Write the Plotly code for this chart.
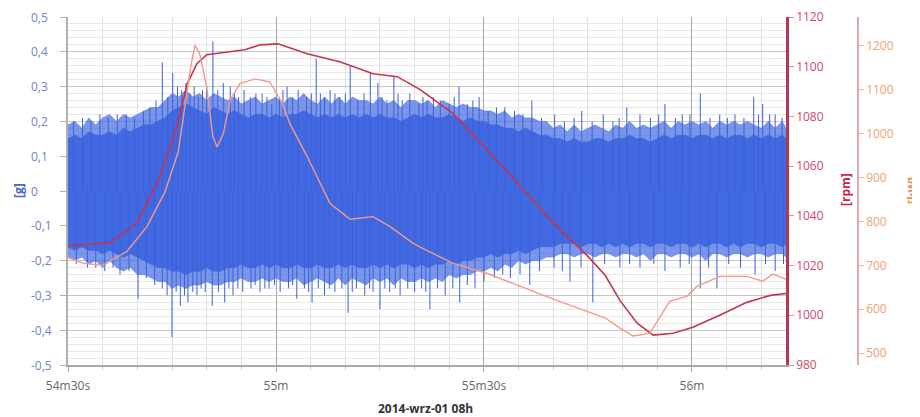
import plotly.graph_objects as go

# ---------------- data (time in seconds after 54m30s) ----------------
x_tick_vals = [0, 30, 60, 90]
x_tick_text = ["54m30s", "55m", "55m30s", "56m"]

g_tick_vals = [0.5, 0.4, 0.3, 0.2, 0.1, 0.0, -0.1, -0.2, -0.3, -0.4, -0.5]
g_tick_text = ["0,5", "0,4", "0,3", "0,2", "0,1", "0", "-0,1", "-0,2", "-0,3", "-0,4", "-0,5"]

# vibration signal: envelope of the dense core, one value per second
env_t = list(range(0, 104)) + [103.6]
env_upper = [
    0.15, 0.16, 0.15, 0.17, 0.16, 0.16, 0.17, 0.16, 0.18, 0.17,
    0.18, 0.19, 0.19, 0.20, 0.21, 0.23, 0.24, 0.25, 0.24, 0.23,
    0.22, 0.24, 0.23, 0.22, 0.23, 0.22, 0.21, 0.22, 0.22, 0.21,
    0.22, 0.21, 0.22, 0.22, 0.23, 0.22, 0.21, 0.22, 0.21, 0.22,
    0.21, 0.22, 0.21, 0.22, 0.21, 0.22, 0.21, 0.21, 0.20, 0.21,
    0.22, 0.21, 0.22, 0.21, 0.21, 0.22, 0.21, 0.20, 0.21, 0.20,
    0.20, 0.19, 0.19, 0.18, 0.18, 0.17, 0.18, 0.17, 0.16, 0.16,
    0.15, 0.15, 0.14, 0.15, 0.14, 0.14, 0.15, 0.15, 0.14, 0.15,
    0.15, 0.16, 0.15, 0.15, 0.14, 0.15, 0.16, 0.15, 0.16, 0.16,
    0.15, 0.16, 0.16, 0.15, 0.16, 0.15, 0.16, 0.16, 0.15, 0.16,
    0.15, 0.16, 0.15, 0.16, 0.15,
]
env_lower = [
    -0.16, -0.17, -0.16, -0.17, -0.17, -0.18, -0.17, -0.18, -0.19, -0.18,
    -0.19, -0.20, -0.21, -0.22, -0.22, -0.23, -0.23, -0.24, -0.23, -0.23,
    -0.22, -0.23, -0.23, -0.22, -0.22, -0.21, -0.22, -0.22, -0.21, -0.22,
    -0.21, -0.22, -0.22, -0.21, -0.22, -0.22, -0.21, -0.22, -0.22, -0.21,
    -0.22, -0.21, -0.22, -0.22, -0.21, -0.22, -0.21, -0.22, -0.21, -0.21,
    -0.22, -0.21, -0.22, -0.21, -0.21, -0.20, -0.21, -0.20, -0.20, -0.19,
    -0.19, -0.18, -0.19, -0.18, -0.18, -0.17, -0.18, -0.17, -0.16, -0.16,
    -0.16, -0.15, -0.15, -0.15, -0.16, -0.15, -0.15, -0.16, -0.15, -0.16,
    -0.15, -0.16, -0.15, -0.15, -0.16, -0.15, -0.15, -0.16, -0.15, -0.15,
    -0.16, -0.15, -0.16, -0.15, -0.15, -0.16, -0.15, -0.16, -0.15, -0.15,
    -0.16, -0.15, -0.15, -0.16, -0.15,
]
# outer ragged fringe of the signal (dense thin peaks)
fringe_upper = [
    0.19, 0.20, 0.18, 0.21, 0.19, 0.21, 0.22, 0.20, 0.22, 0.21,
    0.22, 0.23, 0.24, 0.24, 0.26, 0.28, 0.27, 0.29, 0.27, 0.28,
    0.26, 0.28, 0.27, 0.26, 0.27, 0.25, 0.26, 0.27, 0.25, 0.26,
    0.27, 0.25, 0.27, 0.26, 0.28, 0.26, 0.25, 0.27, 0.25, 0.27,
    0.25, 0.27, 0.26, 0.26, 0.25, 0.27, 0.25, 0.26, 0.24, 0.26,
    0.26, 0.25, 0.26, 0.24, 0.26, 0.25, 0.24, 0.25, 0.24, 0.24,
    0.23, 0.23, 0.22, 0.23, 0.21, 0.22, 0.21, 0.21, 0.20, 0.20,
    0.18, 0.19, 0.17, 0.19, 0.17, 0.18, 0.19, 0.18, 0.17, 0.19,
    0.18, 0.20, 0.18, 0.19, 0.18, 0.19, 0.20, 0.18, 0.20, 0.19,
    0.20, 0.19, 0.20, 0.18, 0.20, 0.19, 0.20, 0.19, 0.20, 0.19,
    0.18, 0.20, 0.18, 0.20, 0.18,
]
fringe_lower = [
    -0.19, -0.20, -0.19, -0.21, -0.20, -0.22, -0.20, -0.22, -0.23, -0.22,
    -0.24, -0.24, -0.25, -0.26, -0.26, -0.28, -0.27, -0.28, -0.27, -0.27,
    -0.26, -0.27, -0.27, -0.26, -0.26, -0.25, -0.26, -0.26, -0.25, -0.26,
    -0.25, -0.26, -0.26, -0.25, -0.27, -0.26, -0.25, -0.26, -0.27, -0.25,
    -0.27, -0.25, -0.26, -0.27, -0.25, -0.26, -0.25, -0.27, -0.25, -0.26,
    -0.26, -0.25, -0.26, -0.25, -0.26, -0.24, -0.25, -0.24, -0.24, -0.23,
    -0.23, -0.22, -0.23, -0.21, -0.22, -0.20, -0.21, -0.20, -0.20, -0.19,
    -0.19, -0.18, -0.18, -0.19, -0.18, -0.18, -0.19, -0.18, -0.18, -0.19,
    -0.18, -0.18, -0.19, -0.18, -0.20, -0.18, -0.18, -0.19, -0.18, -0.18,
    -0.19, -0.18, -0.20, -0.18, -0.18, -0.19, -0.18, -0.18, -0.19, -0.18,
    -0.18, -0.19, -0.18, -0.18, -0.19,
]

# individual peaks of the vibration signal
spike_up_t = [0.8, 2.1, 3.3, 4.6, 5.8, 7.1, 8.4, 9.6, 10.9, 11.8, 12.7, 13.6, 14.4, 15.1, 15.8,
              16.4, 17.0, 17.6, 18.2, 18.8, 19.4, 20.0, 20.9, 21.6, 22.4, 23.4, 24.0, 24.6, 25.4,
              26.3, 27.1, 28.0, 28.7, 29.4, 30.5, 31.0, 31.6, 32.4, 33.2, 34.4, 35.1, 35.8,
              36.4, 37.0, 37.8, 38.5, 39.2, 40.0, 40.7, 41.8, 42.7, 43.6, 44.7, 45.3, 46.0,
              47.0, 47.6, 48.2, 49.3, 50.6, 51.2, 51.8, 52.7, 53.7, 55.0, 55.7, 56.4, 57.6,
              58.4, 59.3, 60.6, 61.8, 63.0, 64.4, 65.6, 66.9, 68.3, 70.2, 71.6, 73.0, 74.1,
              75.6, 77.2, 78.6, 79.5, 80.6, 82.5, 84.0, 85.2, 86.1, 87.6, 88.6, 89.7, 91.2,
              92.6, 94.0, 95.1, 96.2, 97.5, 98.9, 99.6, 100.2, 101.2, 102.0, 103.0]
spike_up_v = [0.20, 0.21, 0.20, 0.22, 0.21, 0.22, 0.22, 0.21, 0.23, 0.24, 0.26, 0.37, 0.27, 0.34, 0.30,
              0.29, 0.31, 0.28, 0.30, 0.27, 0.29, 0.30, 0.43, 0.29, 0.31, 0.30, 0.28, 0.27, 0.29,
              0.27, 0.28, 0.28, 0.27, 0.25, 0.27, 0.29, 0.30, 0.27, 0.29, 0.27, 0.28, 0.38,
              0.28, 0.27, 0.29, 0.28, 0.27, 0.28, 0.36, 0.26, 0.28, 0.34, 0.31, 0.27, 0.26,
              0.33, 0.28, 0.26, 0.28, 0.25, 0.27, 0.26, 0.27, 0.26, 0.25, 0.27, 0.30, 0.25,
              0.26, 0.27, 0.23, 0.24, 0.24, 0.23, 0.22, 0.26, 0.21, 0.22, 0.20, 0.21, 0.23,
              0.20, 0.22, 0.20, 0.21, 0.24, 0.22, 0.21, 0.22, 0.25, 0.21, 0.22, 0.22, 0.28,
              0.21, 0.22, 0.21, 0.22, 0.21, 0.27, 0.22, 0.25, 0.22, 0.22, 0.21]
spike_dn_t = [1.2, 2.8, 4.0, 5.3, 6.5, 7.5, 8.8, 10.1, 11.3, 12.5, 13.6, 14.3, 15.0, 15.6, 16.2,
              16.8, 17.3, 18.0, 18.6, 19.2, 19.8, 20.8, 21.7, 22.6, 23.2, 23.8, 24.5, 25.2,
              26.4, 27.0, 27.7, 28.4, 29.0, 29.8, 30.6, 31.8, 32.4, 33.0, 34.1, 34.7, 35.2,
              36.1, 37.0, 37.7, 38.5, 39.5, 40.4, 41.0, 41.6, 42.8, 43.5, 44.0, 45.0, 45.7,
              46.4, 47.2, 47.9, 49.0, 50.0, 51.0, 51.6, 52.2, 53.3, 54.4, 55.5, 56.5, 57.6,
              58.7, 60.0, 61.5, 62.7, 63.8, 65.2, 66.6, 68.0, 70.1, 71.3, 72.4, 74.0, 75.7,
              77.4, 79.6, 81.0, 82.5, 84.5, 86.1, 88.3, 89.6, 91.2, 92.4, 93.6, 95.3, 97.0,
              99.1, 100.6, 102.0, 103.2]
spike_dn_v = [-0.21, -0.22, -0.22, -0.23, -0.22, -0.24, -0.23, -0.31, -0.25, -0.27, -0.28, -0.30, -0.42, -0.29, -0.33,
              -0.30, -0.32, -0.29, -0.30, -0.28, -0.29, -0.33, -0.29, -0.32, -0.28, -0.30, -0.28, -0.29,
              -0.28, -0.27, -0.29, -0.28, -0.28, -0.27, -0.29, -0.28, -0.27, -0.31, -0.28, -0.29, -0.32,
              -0.28, -0.30, -0.28, -0.29, -0.28, -0.35, -0.29, -0.28, -0.30, -0.28, -0.29, -0.34, -0.28,
              -0.29, -0.28, -0.30, -0.28, -0.29, -0.28, -0.29, -0.34, -0.28, -0.30, -0.28, -0.32, -0.27,
              -0.28, -0.26, -0.25, -0.24, -0.25, -0.24, -0.27, -0.23, -0.22, -0.23, -0.26, -0.22, -0.32,
              -0.21, -0.22, -0.21, -0.22, -0.21, -0.23, -0.22, -0.21, -0.28, -0.22, -0.28, -0.21, -0.22,
              -0.24, -0.21, -0.23, -0.21]

# rotational speed [rpm]
rpm_t = [0, 6.1, 10.0, 13.3, 15.7, 17.2, 18.6, 20.0, 25.5, 27.7, 30.3, 34.5, 39.2, 44.0,
         47.5, 50.8, 55.5, 60.4, 65.2, 70.0, 74.9, 77.5, 79.6, 82.1, 84.4, 87.3, 90.1,
         94.0, 97.9, 101.3, 103.6]
rpm_v = [1028, 1029.2, 1037.2, 1056, 1076, 1093.2, 1101.2, 1104.8, 1106.8, 1108.8, 1109.2, 1105.2,
         1102, 1097.2, 1096, 1090.8, 1081.2, 1066.8, 1052, 1037.2, 1024, 1016, 1006, 996.8,
         992, 992.8, 995.2, 1000, 1005.2, 1008, 1008.8]

# power [kW]
kw_t = [0, 2.2, 5.0, 8.5, 11.4, 14.0, 15.9, 17.0, 17.7, 18.3, 19.0, 20.0, 20.9, 21.5,
        22.4, 23.4, 24.8, 27.0, 29.1, 30.9, 32.0, 34.5, 37.8, 40.7, 44.0, 46.4, 49.8,
        51.5, 55.5, 60.4, 65.2, 70.0, 77.5, 79.6, 81.5, 83.9, 86.8, 89.3, 90.7, 94.0,
        97.9, 100.2, 101.7, 103.6]
kw_v = [718, 705, 700, 732, 789, 868, 959, 1073, 1152, 1202, 1182, 1107, 993, 970,
        1000, 1077, 1114, 1125, 1118, 1070, 1023, 948, 841, 805, 811, 789, 750,
        736, 705, 682, 652, 623, 580, 557, 539, 545, 618, 630, 652, 675,
        675, 664, 680, 668]

# ---------------- figure ----------------
BLUE = "#4169E1"
RPM_C = "#c8344c"
KW_C = "#f49a88"
FONT = "Open Sans"

fig = go.Figure()

fig.add_trace(go.Scatter(
    x=env_t + env_t[::-1], y=fringe_upper + fringe_lower[::-1],
    fill="toself", fillcolor="rgba(65,105,225,0.7)", mode="lines",
    line=dict(color="rgba(65,105,225,0.6)", width=0.8), hoverinfo="skip", showlegend=False))

fig.add_trace(go.Scatter(
    x=env_t + env_t[::-1], y=env_upper + env_lower[::-1],
    fill="toself", fillcolor=BLUE, mode="lines",
    line=dict(color=BLUE, width=1), hoverinfo="skip", showlegend=False))

sx, sy = [], []
for t, v in zip(spike_up_t + spike_dn_t, spike_up_v + spike_dn_v):
    sx += [t, t, None]
    sy += [0, v, None]
fig.add_trace(go.Scatter(x=sx, y=sy, mode="lines",
                         line=dict(color="#3f5fd6", width=1),
                         hoverinfo="skip", showlegend=False))

fig.add_trace(go.Scatter(x=kw_t, y=kw_v, yaxis="y3", mode="lines",
                         line=dict(color=KW_C, width=1.4), showlegend=False))
fig.add_trace(go.Scatter(x=rpm_t, y=rpm_v, yaxis="y2", mode="lines",
                         line=dict(color=RPM_C, width=1.6), showlegend=False))

x_end = 103.56
TOP = 9      # figure px of plot top
BOT = 357    # figure px of plot bottom
PW = 790     # paper width in px
PH = BOT - TOP
dom_end = 718 / PW

def px_x(fx):  # figure px -> paper x
    return (fx - 60) / PW

def px_y(fy):  # figure px -> paper y
    return (BOT - fy) / PH

annotations = [
    dict(text="<b>[g]</b>", x=px_x(10), y=px_y(183), textangle=-90,
         xanchor="center", yanchor="middle", font=dict(color="#4a66c8", size=12)),
    dict(text="<b>[rpm]</b>", x=px_x(837), y=px_y(182), textangle=-90,
         xanchor="center", yanchor="middle", font=dict(color="#c8284a", size=12)),
    dict(text="<b>[kW]</b>", x=px_x(904), y=px_y(182), textangle=-90,
         xanchor="center", yanchor="middle", font=dict(color="#f08860", size=12)),
    dict(text="<b>2014-wrz-01 08h</b>", x=px_x(417), y=px_y(400),
         xanchor="center", yanchor="middle", font=dict(color="#333333", size=12)),
]
for a in annotations:
    a.update(xref="paper", yref="paper", showarrow=False)

# left-aligned tick labels of the [g] axis
for v, txt in zip(g_tick_vals, g_tick_text):
    annotations.append(dict(text=txt, xref="paper", yref="y", x=px_x(21), y=v,
                            xanchor="left", yanchor="middle", showarrow=False,
                            font=dict(color="#6f82c4", size=12)))

fig.update_layout(
    width=912, height=409,
    margin=dict(l=60, r=62, t=TOP, b=409 - BOT),
    paper_bgcolor="white", plot_bgcolor="white",
    font=dict(family=FONT, size=12, color="#666"),
    showlegend=False,
    annotations=annotations,
    xaxis=dict(
        domain=[0, dom_end], range=[0, x_end],
        tickmode="array", tickvals=x_tick_vals, ticktext=x_tick_text,
        showgrid=True, gridcolor="#a8a8a8", gridwidth=1,
        ticks="outside", ticklen=5, tickcolor="#aaaaaa",
        minor=dict(tickmode="array",
                   tickvals=[v for v in range(0, 104, 5)],
                   showgrid=True, gridcolor="#dedede", gridwidth=1,
                   ticks="outside", ticklen=3, tickcolor="#cccccc"),
        showline=True, linecolor="#a8a8a8", linewidth=2,
        zeroline=False, automargin=False, ticklabelstandoff=4,
        tickfont=dict(color="#666", size=12),
    ),
    yaxis=dict(
        range=[-0.5, 0.5], tickmode="array",
        tickvals=g_tick_vals, showticklabels=False,
        showgrid=True, gridcolor="#c6c6c6", gridwidth=1,
        minor=dict(dtick=0.02, tick0=0, showgrid=True, gridcolor="#e8e8e8", gridwidth=1),
        showline=True, linecolor="#b0b0b0", linewidth=2,
        ticks="outside", ticklen=6, tickcolor="#b0b0b0",
        zeroline=False, automargin=False,
    ),
    yaxis2=dict(
        overlaying="y", side="right", anchor="x",
        range=[980, 1120], tickmode="linear", tick0=980, dtick=20,
        showgrid=False, zeroline=False,
        showline=True, linecolor="#b03a55", linewidth=2.5,
        ticks="outside", ticklen=5, tickcolor="#e58a9a",
        tickfont=dict(color="#d04a64", size=12), automargin=False,
        ticklabeloverflow="allow",
    ),
    yaxis3=dict(
        overlaying="y", side="right", anchor="free", position=1.0,
        range=[473, 1266], tickmode="linear", tick0=500, dtick=100,
        showgrid=False, zeroline=False,
        showline=True, linecolor="#dcaaaa", linewidth=1.5,
        ticks="outside", ticklen=5, tickcolor="#f0b0a0",
        tickfont=dict(color="#f0a070", size=12), automargin=False,
        ticklabeloverflow="allow",
    ),
)

fig.write_html("out.html")
